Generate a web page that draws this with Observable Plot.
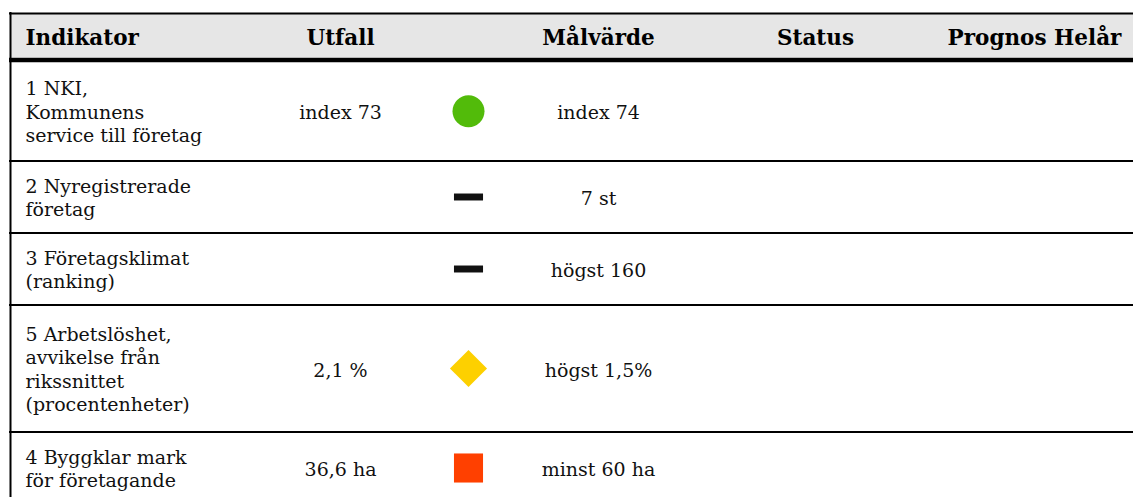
<!DOCTYPE html>
<html>
<head>
<meta charset="utf-8">
<script src="https://cdn.jsdelivr.net/npm/d3@7"></script>
<script src="https://cdn.jsdelivr.net/npm/@observablehq/plot@0.6"></script>
<style>
  html, body { margin: 0; padding: 0; background: #fff; }
  svg { display: block; }
</style>
</head>
<body>
<div id="chart"></div>
<script>
// ---- data ----
const columns = ["Indikator", "Utfall", "", "Målvärde", "Status", "Prognos Helår"];
const indicators = [
  "1 NKI,\nKommunens\nservice till företag",
  "2 Nyregistrerade\nföretag",
  "3 Företagsklimat\n(ranking)",
  "5 Arbetslöshet,\navvikelse från\nrikssnittet\n(procentenheter)",
  "4 Byggklar mark\nför företagande"
];
const outcomes = ["index 73", "", "", "2,1 %", "36,6 ha"];
const statuses = ["ok", "saknas", "saknas", "varning", "ej"];
const targets = ["index 74", "7 st", "högst 160", "högst 1,5%", "minst 60 ha"];
const statusLabels = ["", "", "", "", ""];
const forecasts = ["", "", "", "", ""];

// ---- layout (styles, not data) ----
const W = 1133, H = 497;
const L = {
  left: 10, right: W, top: 13, headBottom: 59.5, firstRow: 61,
  rowPad: 17, perLine: 27.5, lineH: 1.23, fontSize: 19, headSize: 21.5,
  colX: {"Indikator": 25, "Utfall": 340, "": 468, "Målvärde": 598, "Status": 815, "Prognos Helår": 1034}
};
const font = "'DejaVu Serif', Georgia, serif";
const statusColor = {ok: "#52bb0a", varning: "#fdd000", ej: "#ff4000", saknas: "#111"};
const dash = {draw(ctx, size) { const s = Math.sqrt(size); ctx.rect(-s / 2, -s * 0.12, s, s * 0.24); }};
const statusSymbol = {ok: "circle", varning: "diamond2", ej: "square", saknas: dash};
const statusR = {ok: 16, varning: 16.7, ej: 16.4, saknas: 16.4};

// build rows
let y0 = L.firstRow;
const rows = indicators.map((ind, i) => {
  const n = ind.split("\n").length;
  const h = L.rowPad + L.perLine * n;
  const r = {ind, outcome: outcomes[i], status: statuses[i], target: targets[i],
             label: statusLabels[i], forecast: forecasts[i], top: y0, bottom: y0 + h, mid: y0 + h / 2};
  y0 += h;
  return r;
});
const separators = rows.map(r => r.bottom);
const headMid = (L.top + L.headBottom) / 2 + 1;
const heads = columns.filter(c => c);

const chart = Plot.plot({
  width: W, height: H,
  margin: 0,
  x: {domain: [0, W], range: [0, W], axis: null},
  y: {domain: [0, H], range: [0, H], axis: null},
  r: {type: "identity"},
  symbol: {type: "identity"},
  marks: [
    // header background
    Plot.rect([0], {x1: L.left, x2: L.right, y1: L.top, y2: L.headBottom - 2, fill: "#e6e6e6"}),
    // top border
    Plot.ruleY([L.top], {x1: L.left - 1, x2: L.right, stroke: "#000", strokeWidth: 2}),
    // thick header rule
    Plot.ruleY([L.headBottom], {x1: L.left - 1, x2: L.right, stroke: "#000", strokeWidth: 4.5}),
    // row separators
    Plot.ruleY(separators, {x1: L.left - 1, x2: L.right, stroke: "#000", strokeWidth: 2}),
    // left border
    Plot.ruleX([L.left], {y1: L.top - 1, y2: H, stroke: "#000", strokeWidth: 2}),
    // header labels
    Plot.text(heads.slice(0, 1), {
      x: c => L.colX[c], y: () => headMid, text: c => c, textAnchor: "start",
      fontFamily: font, fontWeight: "bold", fontSize: L.headSize, fill: "#000"
    }),
    Plot.text(heads.slice(1), {
      x: c => L.colX[c], y: () => headMid, text: c => c, textAnchor: "middle",
      fontFamily: font, fontWeight: "bold", fontSize: L.headSize, fill: "#000"
    }),
    // indicator names
    Plot.text(rows, {
      x: () => L.colX["Indikator"], y: r => r.mid, text: "ind", textAnchor: "start",
      lineHeight: L.lineH, fontFamily: font, fontSize: L.fontSize, fill: "#111"
    }),
    // outcomes
    Plot.text(rows, {
      x: () => L.colX["Utfall"], y: r => r.mid + 2, text: "outcome",
      fontFamily: font, fontSize: L.fontSize, fill: "#111"
    }),
    // status symbols
    Plot.dot(rows, {
      x: () => L.colX[""], y: "mid", symbol: r => statusSymbol[r.status],
      r: r => statusR[r.status], fill: r => statusColor[r.status], stroke: "none"
    }),
    // targets
    Plot.text(rows, {
      x: () => L.colX["Målvärde"], y: r => r.mid + 2, text: "target",
      fontFamily: font, fontSize: L.fontSize, fill: "#111"
    })
  ]
});
document.getElementById("chart").appendChild(chart);
</script>
</body>
</html>
